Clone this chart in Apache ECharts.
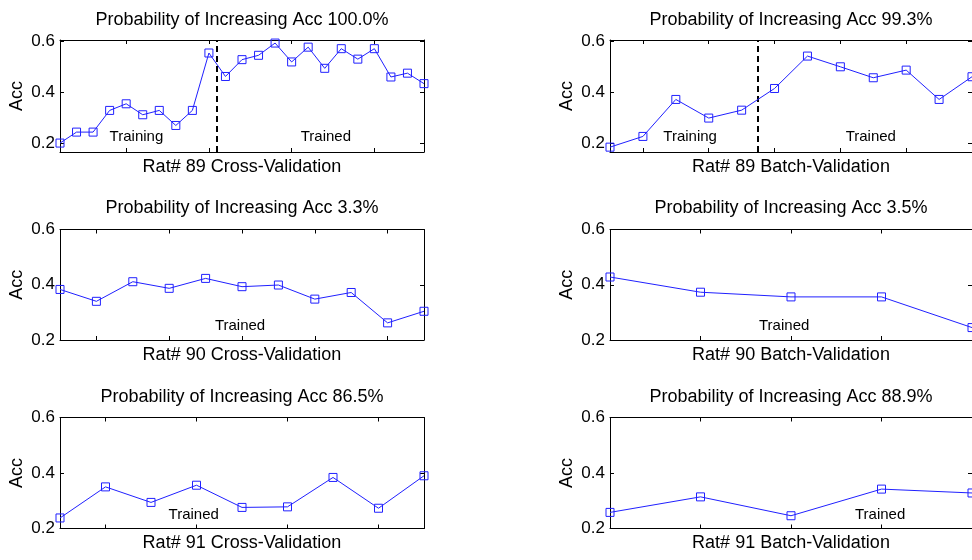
<!DOCTYPE html>
<html>
<head>
<meta charset="utf-8">
<script src="https://cdn.jsdelivr.net/npm/echarts@6/dist/echarts.min.js"></script>
<style>
html,body{margin:0;padding:0;background:#fff;}
#chart{width:972px;height:560px;}
</style>
</head>
<body>
<div id="chart"></div>
<script>
// ---- data ----
const panelTitles = [
  'Probability of Increasing Acc 100.0%',
  'Probability of Increasing Acc 99.3%',
  'Probability of Increasing Acc 3.3%',
  'Probability of Increasing Acc 3.5%',
  'Probability of Increasing Acc 86.5%',
  'Probability of Increasing Acc 88.9%'
];
const xLabels = [
  'Rat# 89 Cross-Validation',
  'Rat# 89 Batch-Validation',
  'Rat# 90 Cross-Validation',
  'Rat# 90 Batch-Validation',
  'Rat# 91 Cross-Validation',
  'Rat# 91 Batch-Validation'
];
const yLabel = 'Acc';
const yTickValues = [0.2, 0.4, 0.6];

const rat89Cross = [0.200, 0.243, 0.243, 0.328, 0.354, 0.311, 0.328, 0.269, 0.328, 0.553, 0.461,
                    0.527, 0.544, 0.592, 0.518, 0.576, 0.493, 0.570, 0.529, 0.570, 0.459, 0.474, 0.433];
const rat89Batch = [0.184, 0.226, 0.371, 0.298, 0.329, 0.414, 0.541, 0.499, 0.456, 0.486, 0.371, 0.460];
const rat90Cross = [0.383, 0.340, 0.411, 0.387, 0.423, 0.393, 0.399, 0.348, 0.372, 0.262, 0.304];
const rat90Batch = [0.428, 0.373, 0.356, 0.356, 0.245];
const rat91Cross = [0.238, 0.350, 0.294, 0.356, 0.276, 0.278, 0.384, 0.273, 0.390];
const rat91Batch = [0.258, 0.314, 0.246, 0.342, 0.328];

const seriesValues = [rat89Cross, rat89Batch, rat90Cross, rat90Batch, rat91Cross, rat91Batch];

// x tick positions per panel
const xTicks = [
  [5, 10, 15, 20],
  [2, 4, 6, 8, 10, 12],
  [2, 4, 6, 8, 10],
  [2, 3, 4],
  [2, 4, 6, 8],
  [2, 3, 4]
];
// y ranges per panel
const yMins = [0.165, 0.165, 0.2, 0.2, 0.2, 0.2];
const yMaxs = [0.604, 0.604, 0.6, 0.6, 0.6, 0.6];

// dashed divider between training / trained
const dividers = [10.5, 5.5, null, null, null, null];

// annotation texts: [text, x, y]
const annotations = [
  [['Training', 5.65, 0.224], ['Trained', 17.1, 0.224]],
  [['Training', 3.45, 0.224], ['Trained', 8.94, 0.224]],
  [['Trained', 5.96, 0.249]],
  [['Trained', 2.93, 0.249]],
  [['Trained', 3.95, 0.249]],
  [['Trained', 3.99, 0.249]]
];

// ---- layout ----
const FONT = "'Liberation Sans', Arial, sans-serif";
const colLeft = [60, 610];
const colWidth = [364, 362];
const rowTop = [40, 229.5, 417.5];
const rowHeight = [112, 110.5, 111];
const titleY = [20, 208, 397];
const BLUE = '#2020ff';

const grids = [], xAxes = [], yAxes = [], series = [], graphics = [];

for (let p = 0; p < 6; p++) {
  const r = Math.floor(p / 2), c = p % 2;
  grids.push({left: colLeft[c], top: rowTop[r], width: colWidth[c], height: rowHeight[r], containLabel: false});
  const n = seriesValues[p].length;
  const tickCommon = {inside: true, length: 4, lineStyle: {color: '#000', width: 1}};
  xAxes.push({
    type: 'value', gridIndex: p, position: 'bottom', min: 1, max: n,
    axisLine: {show: true, onZero: false, lineStyle: {color: '#000', width: 1}},
    axisTick: Object.assign({customValues: xTicks[p]}, tickCommon),
    axisLabel: {show: false}, splitLine: {show: false},
    name: xLabels[p], nameLocation: 'middle', nameGap: 6,
    nameTextStyle: {fontFamily: FONT, fontSize: 18, color: '#000', verticalAlign: 'top'}
  });
  xAxes.push({
    type: 'value', gridIndex: p, position: 'top', min: 1, max: n,
    axisLine: {show: true, onZero: false, lineStyle: {color: '#000', width: 1}},
    axisTick: Object.assign({customValues: xTicks[p]}, tickCommon),
    axisLabel: {show: false}, splitLine: {show: false}
  });
  yAxes.push({
    type: 'value', gridIndex: p, position: 'left', min: yMins[p], max: yMaxs[p],
    axisLine: {show: true, onZero: false, lineStyle: {color: '#000', width: 1}},
    axisTick: Object.assign({customValues: yTickValues}, tickCommon),
    axisLabel: {customValues: yTickValues, fontFamily: FONT, fontSize: 17, color: '#000', margin: 5,
                formatter: v => v.toFixed(1)},
    splitLine: {show: false},
    name: yLabel, nameLocation: 'middle', nameGap: 34, nameRotate: 90,
    nameTextStyle: {fontFamily: FONT, fontSize: 18, color: '#000'}
  });
  yAxes.push({
    type: 'value', gridIndex: p, position: 'right', min: yMins[p], max: yMaxs[p],
    axisLine: {show: true, onZero: false, lineStyle: {color: '#000', width: 1}},
    axisTick: Object.assign({customValues: yTickValues}, tickCommon),
    axisLabel: {show: false}, splitLine: {show: false}
  });

  const lineSeries = {
    type: 'line', xAxisIndex: p * 2, yAxisIndex: p * 2,
    data: seriesValues[p].map((v, i) => [i + 1, v]),
    symbol: 'rect', symbolSize: 8, showSymbol: true,
    lineStyle: {color: BLUE, width: 1},
    itemStyle: {color: 'rgba(0,0,0,0)', borderColor: BLUE, borderWidth: 1},
    z: 5, silent: true
  };
  if (dividers[p] !== null) {
    lineSeries.markLine = {
      silent: true, symbol: ['none', 'none'], label: {show: false},
      lineStyle: {color: '#000', type: [6, 4], width: 2},
      data: [{xAxis: dividers[p]}]
    };
  }
  series.push(lineSeries);

  series.push({
    type: 'scatter', xAxisIndex: p * 2, yAxisIndex: p * 2, symbolSize: 1, silent: true,
    itemStyle: {color: 'rgba(0,0,0,0)'},
    data: annotations[p].map(a => ({name: a[0], value: [a[1], a[2]]})),
    label: {show: true, position: [0, 0], align: 'center', verticalAlign: 'middle', formatter: '{b}',
            fontFamily: FONT, fontSize: 15, color: '#000', opacity: 1, textBorderWidth: 0}
  });

  graphics.push({
    type: 'text', x: colLeft[c] + colWidth[c] / 2, y: titleY[r],
    style: {text: panelTitles[p], fill: '#000', font: '18px ' + FONT, textAlign: 'center', textVerticalAlign: 'middle'}
  });
}

const chart = echarts.init(document.getElementById('chart'), null, {renderer: 'canvas'});
chart.setOption({
  animation: false,
  backgroundColor: '#fff',
  grid: grids,
  xAxis: xAxes,
  yAxis: yAxes,
  series: series,
  graphic: graphics
});
</script>
</body>
</html>
